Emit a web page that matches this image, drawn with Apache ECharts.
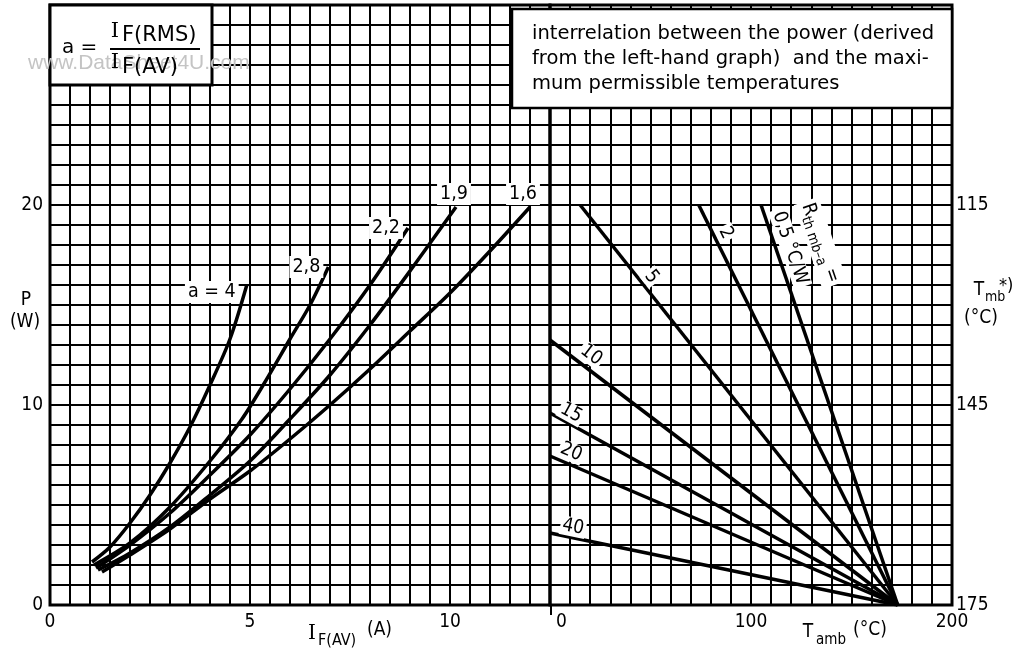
<!DOCTYPE html>
<html><head><meta charset="utf-8">
<script src="https://cdn.jsdelivr.net/npm/echarts@6/dist/echarts.min.js"></script>
<style>html,body{margin:0;padding:0;background:#fff}#c{width:1021px;height:648px}</style>
</head><body><div id="c"></div>
<script>
const FONT = "'DejaVu Sans Condensed','DejaVu Sans',sans-serif";
const FONT_W = "'DejaVu Sans',sans-serif";

// ---- Left graph: P (W) vs I_F(AV) (A) ----
const leftXTicks = [0, 5, 10];
const leftYTicks = [0, 10, 20];
const curveNames = ['a = 4', '2,8', '2,2', '1,9', '1,6'];
const curveA4  = [[1.05,2.15],[1.5,2.9],[2,4.1],[2.5,5.5],[3,7.1],[3.5,8.9],[4,11.0],[4.5,13.3],[4.92,16.0]];
const curveA28 = [[1.1,2.0],[2,3.1],[3,4.9],[4,7.2],[4.8,9.3],[5.33,11.0],[6,13.3],[6.5,15.0],[6.96,16.9]];
const curveA22 = [[1.15,1.85],[2,3.0],[3,4.6],[4,6.5],[5,8.5],[6,10.8],[7,13.3],[8,16.0],[8.95,18.85]];
const curveA19 = [[1.2,1.75],[2,2.6],[3,3.9],[4,5.5],[5,7.2],[6,9.3],[7,11.5],[8,14.0],[9,16.7],[10.15,19.9]];
const curveA16 = [[1.3,1.65],[2,2.5],[3,3.8],[4,5.3],[5,6.7],[6,8.3],[7,10.0],[8,11.8],[9,13.7],[10,15.6],[11,17.7],[12,19.9]];
const leftCurves = [curveA4, curveA28, curveA22, curveA19, curveA16];

// ---- Right graph: P (W) vs T_amb (°C), lines of constant R_th mb-a ----
const rightXTicks = [0, 100, 200];
const tmbTickP = [0, 10, 20];
const tmbTickLabels = ['175', '145', '115'];
const rthNames = ['0,5', '2', '5', '10', '15', '20', '40'];
const rth05 = [[105,20],[173,0]];
const rth2  = [[74,20],[173,0]];
const rth5  = [[15,20],[173,0]];
const rth10 = [[0,13.25],[173,0]];
const rth15 = [[0,9.6],[173,0]];
const rth20 = [[0,7.45],[173,0]];
const rth40 = [[0,3.6],[173,0]];
const rthLines = [rth05, rth2, rth5, rth10, rth15, rth20, rth40];

// ---- label placement (layout only) ----
const curveLabelOffset = [[-35,7],[-22,0],[-22,0],[-2,-13],[-7,-13]];
const rthLabelAt = [null,[87.5,18.6],[50.5,16.4],[20.5,12.5],[10.5,9.6],[10.5,7.65],[11.5,3.9]];
const rthTitleAt = [[134.5,18.1],[119.5,17.85]];

const near = (v, arr) => arr.some(t => Math.abs(t - v) < 1e-6);
const lblStyle = {color:'#000', fontSize:19, fontFamily:FONT};
const gridLine = {show:true, lineStyle:{color:'#000', width:2}};

const chart = echarts.init(document.getElementById('c'), null, {renderer:'canvas'});

const series = [];
leftCurves.forEach((d, i) => series.push({
  type:'line', name:curveNames[i], xAxisIndex:0, yAxisIndex:0, data:d, smooth:0.3,
  symbol:'none', lineStyle:{color:'#000', width:3.5}, z:5
}));
rthLines.forEach((d, i) => series.push({
  type:'line', name:'R' + rthNames[i], xAxisIndex:1, yAxisIndex:1, data:d,
  symbol:'none', lineStyle:{color:'#000', width:3.5}, z:5
}));

chart.setOption({
  animation:false,
  backgroundColor:'#fff',
  grid:[
    {left:50, top:5, width:500, height:600, show:true, borderColor:'#000', borderWidth:3, containLabel:false, outerBoundsMode:'none'},
    {left:550, top:5, width:402, height:600, show:true, borderColor:'#000', borderWidth:3, containLabel:false, outerBoundsMode:'none'}
  ],
  xAxis:[
    {gridIndex:0, type:'value', min:0, max:12.5, interval:0.5,
     axisLine:{show:false}, axisTick:{show:false}, splitLine:gridLine,
     axisLabel:Object.assign({margin:8, showMinLabel:true, showMaxLabel:true,
       formatter:v => near(v, leftXTicks) ? String(Math.round(v)) : ''}, lblStyle)},
    {gridIndex:1, type:'value', min:0, max:200, interval:10,
     axisLine:{show:false}, axisTick:{show:false}, splitLine:gridLine,
     axisLabel:Object.assign({margin:8, showMinLabel:true, showMaxLabel:true, alignMinLabel:'left',
       rich:{z:{fontSize:19, fontFamily:FONT, color:'#000', padding:[0,0,0,6]}},
       formatter:v => near(v, rightXTicks) ? (Math.abs(v) < 1e-6 ? '{z|0}' : String(Math.round(v))) : ''}, lblStyle)}
  ],
  yAxis:[
    {gridIndex:0, type:'value', min:0, max:30, interval:1,
     axisLine:{show:false}, axisTick:{show:false}, splitLine:gridLine,
     axisLabel:Object.assign({margin:7, showMinLabel:true, showMaxLabel:true,
       formatter:v => near(v, leftYTicks) ? String(Math.round(v)) : ''}, lblStyle)},
    {gridIndex:1, type:'value', min:0, max:30, interval:1, position:'right',
     axisLine:{show:false}, axisTick:{show:false}, splitLine:gridLine,
     axisLabel:Object.assign({margin:4, showMinLabel:true, showMaxLabel:true,
       formatter:v => { const k = tmbTickP.findIndex(t => Math.abs(t - v) < 1e-6); return k >= 0 ? tmbTickLabels[k] : ''; }}, lblStyle)}
  ],
  series:series
});

const px = (gi, pt) => chart.convertToPixel({gridIndex:gi}, pt);
const T = (x, y, text, o) => Object.assign({type:'text', x:x, y:y, z:200,
  style:Object.assign({text:text, fill:'#000', fontSize:19, fontFamily:FONT, align:'left', verticalAlign:'middle'}, (o && o.style) || {})},
  o ? (({style, ...r}) => r)(o) : {});

const g = [];
// formula box
g.push({type:'rect', z:150, shape:{x:50, y:5, width:162, height:80}, style:{fill:'#fff', stroke:'#000', lineWidth:3}});
g.push(T(28, 63, 'www.DataSheet4U.com', {z:160, style:{fill:'#c4c4c4', fontSize:21, fontFamily:"'Liberation Sans',Arial,sans-serif"}}));
g.push(T(62, 48, 'a =', {style:{fontSize:20, fontFamily:FONT_W}}));
g.push(T(115, 32, 'I', {style:{fontSize:21, align:'center', fontFamily:"'DejaVu Serif',serif"}}));
g.push(T(122, 36, 'F(RMS)', {style:{fontSize:21, fontFamily:FONT_W}}));
g.push({type:'line', z:200, shape:{x1:110, y1:49, x2:200, y2:49}, style:{stroke:'#000', lineWidth:2}});
g.push(T(115, 63, 'I', {style:{fontSize:21, align:'center', fontFamily:"'DejaVu Serif',serif"}}));
g.push(T(122, 68, 'F(AV)', {style:{fontSize:21, fontFamily:FONT_W}}));

// text box
g.push({type:'rect', z:150, shape:{x:512, y:9, width:440, height:99}, style:{fill:'#fff', stroke:'#000', lineWidth:2.5}});
['interrelation between the power (derived', 'from the left-hand graph)  and the maxi-', 'mum permissible temperatures']
  .forEach((s, i) => g.push(T(532, 34 + i * 25, s, {style:{fontSize:19.5, fontFamily:FONT_W}})));
g.push(T(870, 3, '7Z72939', {style:{fontSize:11, verticalAlign:'bottom'}}));

// curve labels
leftCurves.forEach((d, i) => {
  const p = px(0, d[d.length - 1]);
  const o = curveLabelOffset[i];
  g.push(T(p[0] + o[0], p[1] + o[1], curveNames[i], {style:{fontSize:19.5, align:'center', backgroundColor:'#fff', padding:[1,3]}}));
});

// R_th line labels, rotated along their lines
rthLines.forEach((d, i) => {
  if (!rthLabelAt[i]) return;
  const a = px(1, d[0]), b = px(1, d[1]);
  const ang = Math.atan2(b[1] - a[1], b[0] - a[0]);
  const p = px(1, rthLabelAt[i]);
  g.push(T(p[0], p[1], rthNames[i], {rotation:-ang, style:{fontSize:19, align:'center', backgroundColor:'#fff', padding:[0,2]}}));
});
{
  const a = px(1, rth05[0]), b = px(1, rth05[1]);
  const ang = Math.atan2(b[1] - a[1], b[0] - a[0]);
  const p1 = px(1, rthTitleAt[0]), p2 = px(1, rthTitleAt[1]);
  g.push({type:'text', x:p1[0], y:p1[1], rotation:-ang, z:200,
    style:{text:'{b|R}{s|th mb–a}{b| =}', align:'center', verticalAlign:'middle', fill:'#000', backgroundColor:'#fff', padding:[0,3],
      rich:{b:{fontSize:19, fontFamily:FONT, lineHeight:26, verticalAlign:'middle'}, s:{fontSize:14, fontFamily:FONT, lineHeight:26, verticalAlign:'bottom'}}}});
  g.push(T(p2[0], p2[1], '0,5 °C/W', {rotation:-ang, style:{fontSize:19, align:'center', backgroundColor:'#fff', padding:[0,3]}}));
}

// small tick at right-hand T_amb = 0
{
  const p = px(1, [0, 0]);
  g.push({type:'line', z:200, shape:{x1:p[0] + 1, y1:p[1], x2:p[0] + 1, y2:p[1] + 10}, style:{stroke:'#000', lineWidth:2}});
}

// axis names
g.push(T(26, 300, 'P', {style:{align:'center'}}));
g.push(T(25, 322, '(W)', {style:{align:'center'}}));
g.push(T(312, 634, 'I', {style:{align:'center', fontSize:20, fontFamily:"'DejaVu Serif',serif"}}));
g.push(T(318, 641, 'F(AV)', {style:{fontSize:16}}));
g.push(T(367, 630, '(A)', {style:{fontSize:19}}));
g.push(T(808, 632, 'T', {style:{align:'center'}}));
g.push(T(816, 640, 'amb', {style:{fontSize:15}}));
g.push(T(853, 630, '(°C)', {style:{fontSize:19}}));
g.push(T(979, 290, 'T', {style:{align:'center'}}));
g.push(T(985, 297, 'mb', {style:{fontSize:14}}));
g.push(T(999, 286, '*)', {style:{fontSize:18}}));
g.push(T(981, 318, '(°C)', {style:{align:'center'}}));

chart.setOption({graphic:{elements:g}});
</script>
</body></html>
